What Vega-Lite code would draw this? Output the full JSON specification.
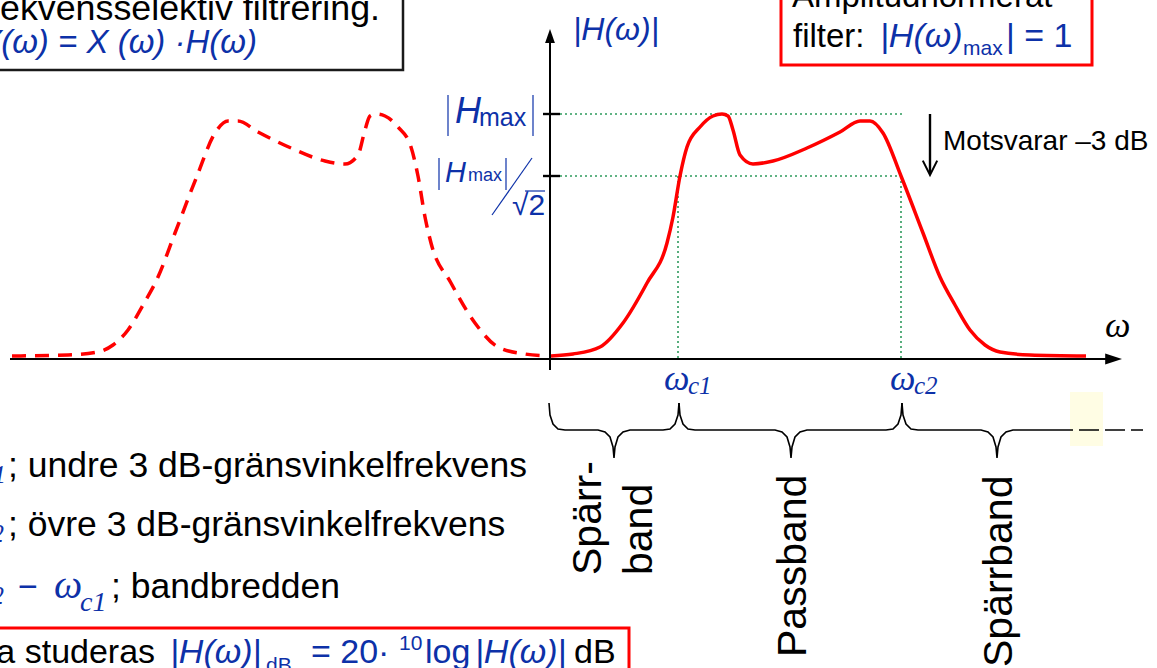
{
  "$schema": "https://vega.github.io/schema/vega-lite/v6.json",
  "width": 1157,
  "height": 668,
  "padding": 0,
  "autosize": {"type": "fit", "contains": "padding"},
  "background": "white",
  "config": {"view": {"stroke": null}},
  "datasets": {
    "curve": [
      {"w": 0.02, "h": 0.03}, {"w": 0.24, "h": 0.05}, {"w": 0.51, "h": 0.12}, {"w": 0.74, "h": 0.36},
      {"w": 0.98, "h": 0.76}, {"w": 1.18, "h": 1.16}, {"w": 1.24, "h": 1.42}, {"w": 1.31, "h": 1.83},
      {"w": 1.38, "h": 2.12}, {"w": 1.51, "h": 2.32}, {"w": 1.64, "h": 2.43}, {"w": 1.73, "h": 2.45},
      {"w": 1.79, "h": 2.43}, {"w": 1.84, "h": 2.29}, {"w": 1.91, "h": 2.04}, {"w": 2.04, "h": 1.95},
      {"w": 2.24, "h": 1.98}, {"w": 2.58, "h": 2.11}, {"w": 2.91, "h": 2.27}, {"w": 3.11, "h": 2.38},
      {"w": 3.21, "h": 2.38}, {"w": 3.34, "h": 2.26}, {"w": 3.52, "h": 1.83}, {"w": 3.74, "h": 1.26},
      {"w": 3.91, "h": 0.82}, {"w": 4.06, "h": 0.54}, {"w": 4.21, "h": 0.29}, {"w": 4.36, "h": 0.14},
      {"w": 4.51, "h": 0.07}, {"w": 4.81, "h": 0.04}, {"w": 5.37, "h": 0.03}
    ],
    "mirror": [
      {"w": -0.02, "h": 0.03}, {"w": -0.24, "h": 0.05}, {"w": -0.51, "h": 0.12}, {"w": -0.74, "h": 0.36},
      {"w": -0.98, "h": 0.76}, {"w": -1.18, "h": 1.16}, {"w": -1.24, "h": 1.42}, {"w": -1.31, "h": 1.83},
      {"w": -1.38, "h": 2.12}, {"w": -1.51, "h": 2.32}, {"w": -1.64, "h": 2.43}, {"w": -1.73, "h": 2.45},
      {"w": -1.79, "h": 2.43}, {"w": -1.84, "h": 2.29}, {"w": -1.91, "h": 2.04}, {"w": -2.04, "h": 1.95},
      {"w": -2.24, "h": 1.98}, {"w": -2.58, "h": 2.11}, {"w": -2.91, "h": 2.27}, {"w": -3.11, "h": 2.38},
      {"w": -3.21, "h": 2.38}, {"w": -3.34, "h": 2.26}, {"w": -3.52, "h": 1.83}, {"w": -3.74, "h": 1.26},
      {"w": -3.91, "h": 0.82}, {"w": -4.06, "h": 0.54}, {"w": -4.21, "h": 0.29}, {"w": -4.36, "h": 0.14},
      {"w": -4.51, "h": 0.07}, {"w": -4.81, "h": 0.04}, {"w": -5.37, "h": 0.03}
    ],
    "dotted": [
      {"w": 0.11, "h": 2.45, "w2": 3.53, "h2": 2.45},
      {"w": 0.11, "h": 1.83, "w2": 3.53, "h2": 1.83},
      {"w": 1.29, "h": 1.83, "w2": 1.29, "h2": 0},
      {"w": 3.52, "h": 1.83, "w2": 3.52, "h2": 0}
    ],
    "axes": [
      {"w": -5.39, "h": 0, "w2": 5.6, "h2": 0},
      {"w": 0.01, "h": -0.11, "w2": 0.01, "h2": 3.16}
    ],
    "ticks": [
      {"w": -0.06, "h": 2.45, "w2": 0.11, "h2": 2.45},
      {"w": -0.06, "h": 1.83, "w2": 0.11, "h2": 1.83},
      {"w": 3.81, "h": 2.45, "w2": 3.81, "h2": 1.86}
    ],
    "arrowRight": [{"w": 5.73, "h": 0}],
    "arrowUp": [{"w": 0.01, "h": 3.3}],
    "chevron": [{"w": 3.81, "h": 1.84}],
    "highlight": [{"w": 5.21, "h": -0.33, "w2": 5.54, "h2": -0.87}],
    "braces": [
      {"b": "1", "o": 1, "w": 0.0, "h": -0.44}, {"b": "1", "o": 2, "w": 0.01, "h": -0.56},
      {"b": "1", "o": 3, "w": 0.04, "h": -0.65}, {"b": "1", "o": 4, "w": 0.09, "h": -0.7},
      {"b": "1", "o": 5, "w": 0.16, "h": -0.71}, {"b": "1", "o": 6, "w": 0.49, "h": -0.71},
      {"b": "1", "o": 7, "w": 0.56, "h": -0.73}, {"b": "1", "o": 8, "w": 0.61, "h": -0.78},
      {"b": "1", "o": 9, "w": 0.64, "h": -0.88}, {"b": "1", "o": 10, "w": 0.65, "h": -0.99},
      {"b": "1", "o": 11, "w": 0.66, "h": -0.88}, {"b": "1", "o": 12, "w": 0.69, "h": -0.78},
      {"b": "1", "o": 13, "w": 0.74, "h": -0.73}, {"b": "1", "o": 14, "w": 0.81, "h": -0.71},
      {"b": "1", "o": 15, "w": 1.14, "h": -0.71}, {"b": "1", "o": 16, "w": 1.21, "h": -0.7},
      {"b": "1", "o": 17, "w": 1.26, "h": -0.65}, {"b": "1", "o": 18, "w": 1.29, "h": -0.56},
      {"b": "1", "o": 19, "w": 1.3, "h": -0.44},
      {"b": "2", "o": 1, "w": 1.3, "h": -0.44}, {"b": "2", "o": 2, "w": 1.31, "h": -0.56},
      {"b": "2", "o": 3, "w": 1.34, "h": -0.65}, {"b": "2", "o": 4, "w": 1.39, "h": -0.7},
      {"b": "2", "o": 5, "w": 1.46, "h": -0.71}, {"b": "2", "o": 6, "w": 2.26, "h": -0.71},
      {"b": "2", "o": 7, "w": 2.33, "h": -0.73}, {"b": "2", "o": 8, "w": 2.38, "h": -0.78},
      {"b": "2", "o": 9, "w": 2.41, "h": -0.88}, {"b": "2", "o": 10, "w": 2.42, "h": -0.99},
      {"b": "2", "o": 11, "w": 2.43, "h": -0.88}, {"b": "2", "o": 12, "w": 2.46, "h": -0.78},
      {"b": "2", "o": 13, "w": 2.51, "h": -0.73}, {"b": "2", "o": 14, "w": 2.58, "h": -0.71},
      {"b": "2", "o": 15, "w": 3.37, "h": -0.71}, {"b": "2", "o": 16, "w": 3.44, "h": -0.7},
      {"b": "2", "o": 17, "w": 3.49, "h": -0.65}, {"b": "2", "o": 18, "w": 3.52, "h": -0.56},
      {"b": "2", "o": 19, "w": 3.53, "h": -0.44},
      {"b": "3", "o": 1, "w": 3.53, "h": -0.44}, {"b": "3", "o": 2, "w": 3.54, "h": -0.56},
      {"b": "3", "o": 3, "w": 3.57, "h": -0.65}, {"b": "3", "o": 4, "w": 3.62, "h": -0.7},
      {"b": "3", "o": 5, "w": 3.69, "h": -0.71}, {"b": "3", "o": 6, "w": 4.32, "h": -0.71},
      {"b": "3", "o": 7, "w": 4.39, "h": -0.73}, {"b": "3", "o": 8, "w": 4.44, "h": -0.78},
      {"b": "3", "o": 9, "w": 4.47, "h": -0.88}, {"b": "3", "o": 10, "w": 4.48, "h": -0.99},
      {"b": "3", "o": 11, "w": 4.49, "h": -0.88}, {"b": "3", "o": 12, "w": 4.52, "h": -0.78},
      {"b": "3", "o": 13, "w": 4.57, "h": -0.73}, {"b": "3", "o": 14, "w": 4.64, "h": -0.71},
      {"b": "3", "o": 15, "w": 5.24, "h": -0.71}
    ],
    "braceDash": [{"w": 5.3, "h": -0.71, "w2": 5.94, "h2": -0.71}],
    "darkBox": [{"w": -5.7, "h": 3.7, "w2": -1.46, "h2": 2.89}],
    "redBoxes": [
      {"w": 2.32, "h": 3.7, "w2": 5.43, "h2": 2.94},
      {"w": -5.7, "h": -2.69, "w2": 0.8, "h2": -3.4}
    ],
    "thinBlue": [
      {"w": -1.01, "h": 2.64, "w2": -1.01, "h2": 2.23},
      {"w": -0.16, "h": 2.64, "w2": -0.16, "h2": 2.23},
      {"w": -1.1, "h": 2.01, "w2": -1.1, "h2": 1.69},
      {"w": -0.43, "h": 2.01, "w2": -0.43, "h2": 1.69},
      {"w": -0.57, "h": 1.44, "w2": -0.17, "h2": 2.01},
      {"w": -0.24, "h": 1.68, "w2": -0.04, "h2": 1.68}
    ],
    "lines": [
      {"w": -5.41, "h": -1.18, "t": "; undre 3 dB-gränsvinkelfrekvens"},
      {"w": -5.41, "h": -1.77, "t": "; övre 3 dB-gränsvinkelfrekvens"},
      {"w": -4.38, "h": -2.39, "t": "; bandbredden"}
    ],
    "black34": [
      {"w": -5.98, "h": -3.04, "t": "Ofta studeras"},
      {"w": 0.25, "h": -3.04, "t": "dB"}
    ],
    "black33": [
      {"w": 2.43, "h": 3.52, "t": "Amplitudnormerat"},
      {"w": 2.44, "h": 3.12, "t": "filter:"}
    ],
    "title": [{"w": -1.69, "h": 3.39, "t": "Frekvensselektiv filtrering."}],
    "note": [{"w": 3.94, "h": 2.09, "t": "Motsvarar –3 dB"}],
    "bands": [
      {"w": 0.52, "h": -2.16, "t": "Spärr-"},
      {"w": 1.03, "h": -2.16, "t": "band"},
      {"w": 2.57, "h": -2.98, "t": "Passband"},
      {"w": 4.63, "h": -3.08, "t": "Spärrband"}
    ],
    "omegaAxis": [{"w": 5.56, "h": 0.22, "t": "ω"}],
    "omegaC": [
      {"w": 1.15, "h": -0.31, "t": "ω"},
      {"w": 3.41, "h": -0.31, "t": "ω"}
    ],
    "subC": [
      {"w": 1.39, "h": -0.35, "t": "c1"},
      {"w": 3.65, "h": -0.35, "t": "c2"}
    ],
    "omegaList": [{"w": -4.95, "h": -2.39, "t": "ω"}],
    "subList": [{"w": -4.69, "h": -2.52, "t": "c1"}],
    "subCut": [
      {"w": -5.43, "h": -1.24, "t": "ωc1"},
      {"w": -5.45, "h": -1.83, "t": "ωc2"},
      {"w": -5.45, "h": -2.45, "t": "ωc2"}
    ],
    "blueReg": [
      {"w": -5.31, "h": -2.39, "t": "−"},
      {"w": -2.38, "h": -3.04, "t": "= 20·"},
      {"w": -1.24, "h": -3.04, "t": "log"},
      {"w": 4.57, "h": 3.12, "t": "| = 1"}
    ],
    "blueIt": [
      {"w": -3.79, "h": -3.04, "t": "|H(ω)|"},
      {"w": -0.74, "h": -3.04, "t": "|H(ω)|"},
      {"w": 3.31, "h": 3.12, "t": "|H(ω)"}
    ],
    "blueSmall": [
      {"w": -2.83, "h": -3.13, "t": "dB"},
      {"w": -1.5, "h": -2.91, "t": "10"},
      {"w": 4.14, "h": 3.04, "t": "max"}
    ],
    "formula": [{"w": -2.92, "h": 3.06, "t": "Y(ω) = X (ω) ·H(ω)"}],
    "yLabel": [{"w": 0.24, "h": 3.19, "t": "|H(ω)|"}],
    "hBig": [{"w": -0.94, "h": 2.36, "t": "H"}],
    "maxBig": [{"w": -0.7, "h": 2.33, "t": "max"}],
    "hSmall": [{"w": -1.04, "h": 1.77, "t": "H"}],
    "maxSmall": [{"w": -0.81, "h": 1.78, "t": "max"}],
    "sqrt": [{"w": -0.37, "h": 1.44, "t": "√2"}]
  },
  "encoding": {
    "x": {"field": "w", "type": "quantitative", "scale": {"domain": [-5.49, 6.08], "nice": false, "zero": false}, "axis": null},
    "y": {"field": "h", "type": "quantitative", "scale": {"domain": [-3.09, 3.59], "nice": false, "zero": false}, "axis": null}
  },
  "layer": [
    {"data": {"name": "highlight"}, "mark": {"type": "rect", "color": "#fffde4"},
     "encoding": {"x2": {"field": "w2"}, "y2": {"field": "h2"}}},
    {"data": {"name": "dotted"}, "mark": {"type": "rule", "color": "#2e9a5c", "strokeWidth": 1.6, "strokeDash": [2, 3]},
     "encoding": {"x2": {"field": "w2"}, "y2": {"field": "h2"}}},
    {"data": {"name": "axes"}, "mark": {"type": "rule", "color": "black", "strokeWidth": 2},
     "encoding": {"x2": {"field": "w2"}, "y2": {"field": "h2"}}},
    {"data": {"name": "ticks"}, "mark": {"type": "rule", "color": "black", "strokeWidth": 2.4},
     "encoding": {"x2": {"field": "w2"}, "y2": {"field": "h2"}}},
    {"data": {"name": "arrowRight"}, "mark": {"type": "point", "shape": "M0,0L-2.1,-0.7L-2.1,0.7Z", "filled": true, "color": "black", "opacity": 1, "size": 256}, "encoding": {}},
    {"data": {"name": "arrowUp"}, "mark": {"type": "point", "shape": "M0,0L-0.7,2L0.7,2Z", "filled": true, "color": "black", "opacity": 1, "size": 196}, "encoding": {}},
    {"data": {"name": "chevron"}, "mark": {"type": "point", "shape": "M-0.9,-1.8L0,0L0.9,-1.8", "filled": false, "color": "black", "opacity": 1, "strokeWidth": 2, "size": 256}, "encoding": {}},
    {"data": {"name": "mirror"}, "mark": {"type": "line", "color": "#ff0000", "strokeWidth": 3.5, "strokeDash": [14, 9], "interpolate": "monotone"}, "encoding": {}},
    {"data": {"name": "curve"}, "mark": {"type": "line", "color": "#ff0000", "strokeWidth": 3.5, "interpolate": "monotone"}, "encoding": {}},
    {"data": {"name": "braces"}, "mark": {"type": "line", "color": "black", "strokeWidth": 1.6},
     "encoding": {"detail": {"field": "b"}, "order": {"field": "o"}}},
    {"data": {"name": "braceDash"}, "mark": {"type": "rule", "color": "black", "strokeWidth": 1.6, "strokeDash": [20, 6]},
     "encoding": {"x2": {"field": "w2"}, "y2": {"field": "h2"}}},
    {"data": {"name": "darkBox"}, "mark": {"type": "rect", "filled": false, "stroke": "#1a1a1a", "strokeWidth": 2.5, "clip": true},
     "encoding": {"x2": {"field": "w2"}, "y2": {"field": "h2"}}},
    {"data": {"name": "redBoxes"}, "mark": {"type": "rect", "filled": false, "stroke": "#ff0000", "strokeWidth": 3, "clip": true},
     "encoding": {"x2": {"field": "w2"}, "y2": {"field": "h2"}}},
    {"data": {"name": "thinBlue"}, "mark": {"type": "rule", "color": "#0d31a8", "strokeWidth": 1.2},
     "encoding": {"x2": {"field": "w2"}, "y2": {"field": "h2"}}},
    {"data": {"name": "lines"}, "mark": {"type": "text", "font": "Liberation Sans", "fontSize": 35.5, "color": "black", "align": "left", "baseline": "alphabetic", "clip": true},
     "encoding": {"text": {"field": "t"}}},
    {"data": {"name": "black34"}, "mark": {"type": "text", "font": "Liberation Sans", "fontSize": 34, "color": "black", "align": "left", "baseline": "alphabetic", "clip": true},
     "encoding": {"text": {"field": "t"}}},
    {"data": {"name": "black33"}, "mark": {"type": "text", "font": "Liberation Sans", "fontSize": 33, "color": "black", "align": "left", "baseline": "alphabetic", "clip": true},
     "encoding": {"text": {"field": "t"}}},
    {"data": {"name": "title"}, "mark": {"type": "text", "font": "Liberation Sans", "fontSize": 35.8, "color": "black", "align": "right", "baseline": "alphabetic", "clip": true},
     "encoding": {"text": {"field": "t"}}},
    {"data": {"name": "note"}, "mark": {"type": "text", "font": "Liberation Sans", "fontSize": 28, "color": "black", "align": "left", "baseline": "alphabetic"},
     "encoding": {"text": {"field": "t"}}},
    {"data": {"name": "bands"}, "mark": {"type": "text", "font": "Liberation Sans", "fontSize": 41, "color": "black", "align": "left", "baseline": "alphabetic", "angle": 270, "clip": true},
     "encoding": {"text": {"field": "t"}}},
    {"data": {"name": "omegaAxis"}, "mark": {"type": "text", "font": "Liberation Serif", "fontStyle": "italic", "fontSize": 36, "color": "black", "align": "left", "baseline": "alphabetic"},
     "encoding": {"text": {"field": "t"}}},
    {"data": {"name": "omegaC"}, "mark": {"type": "text", "font": "Liberation Serif", "fontStyle": "italic", "fontSize": 36, "color": "#0d31a8", "align": "left", "baseline": "alphabetic"},
     "encoding": {"text": {"field": "t"}}},
    {"data": {"name": "subC"}, "mark": {"type": "text", "font": "Liberation Serif", "fontStyle": "italic", "fontSize": 25, "color": "#0d31a8", "align": "left", "baseline": "alphabetic"},
     "encoding": {"text": {"field": "t"}}},
    {"data": {"name": "omegaList"}, "mark": {"type": "text", "font": "Liberation Serif", "fontStyle": "italic", "fontSize": 40, "color": "#0d31a8", "align": "left", "baseline": "alphabetic"},
     "encoding": {"text": {"field": "t"}}},
    {"data": {"name": "subList"}, "mark": {"type": "text", "font": "Liberation Serif", "fontStyle": "italic", "fontSize": 28, "color": "#0d31a8", "align": "left", "baseline": "alphabetic"},
     "encoding": {"text": {"field": "t"}}},
    {"data": {"name": "subCut"}, "mark": {"type": "text", "font": "Liberation Serif", "fontStyle": "italic", "fontSize": 26, "color": "#0d31a8", "align": "right", "baseline": "alphabetic", "clip": true},
     "encoding": {"text": {"field": "t"}}},
    {"data": {"name": "blueReg"}, "mark": {"type": "text", "font": "Liberation Sans", "fontSize": 34, "color": "#0d31a8", "align": "left", "baseline": "alphabetic", "clip": true},
     "encoding": {"text": {"field": "t"}}},
    {"data": {"name": "blueIt"}, "mark": {"type": "text", "font": "Liberation Sans", "fontStyle": "italic", "fontSize": 34, "color": "#0d31a8", "align": "left", "baseline": "alphabetic", "clip": true},
     "encoding": {"text": {"field": "t"}}},
    {"data": {"name": "blueSmall"}, "mark": {"type": "text", "font": "Liberation Sans", "fontSize": 21, "color": "#0d31a8", "align": "left", "baseline": "alphabetic", "clip": true},
     "encoding": {"text": {"field": "t"}}},
    {"data": {"name": "formula"}, "mark": {"type": "text", "font": "Liberation Sans", "fontStyle": "italic", "fontSize": 33, "color": "#0d31a8", "align": "right", "baseline": "alphabetic", "clip": true},
     "encoding": {"text": {"field": "t"}}},
    {"data": {"name": "yLabel"}, "mark": {"type": "text", "font": "Liberation Sans", "fontStyle": "italic", "fontSize": 32, "color": "#0d31a8", "align": "left", "baseline": "alphabetic"},
     "encoding": {"text": {"field": "t"}}},
    {"data": {"name": "hBig"}, "mark": {"type": "text", "font": "Liberation Sans", "fontStyle": "italic", "fontSize": 36, "color": "#0d31a8", "align": "left", "baseline": "alphabetic"},
     "encoding": {"text": {"field": "t"}}},
    {"data": {"name": "maxBig"}, "mark": {"type": "text", "font": "Liberation Sans", "fontSize": 25, "color": "#0d31a8", "align": "left", "baseline": "alphabetic"},
     "encoding": {"text": {"field": "t"}}},
    {"data": {"name": "hSmall"}, "mark": {"type": "text", "font": "Liberation Sans", "fontStyle": "italic", "fontSize": 29, "color": "#0d31a8", "align": "left", "baseline": "alphabetic"},
     "encoding": {"text": {"field": "t"}}},
    {"data": {"name": "maxSmall"}, "mark": {"type": "text", "font": "Liberation Sans", "fontSize": 18, "color": "#0d31a8", "align": "left", "baseline": "alphabetic"},
     "encoding": {"text": {"field": "t"}}},
    {"data": {"name": "sqrt"}, "mark": {"type": "text", "font": "Liberation Sans", "fontSize": 30, "color": "#0d31a8", "align": "left", "baseline": "alphabetic"},
     "encoding": {"text": {"field": "t"}}}
  ]
}
